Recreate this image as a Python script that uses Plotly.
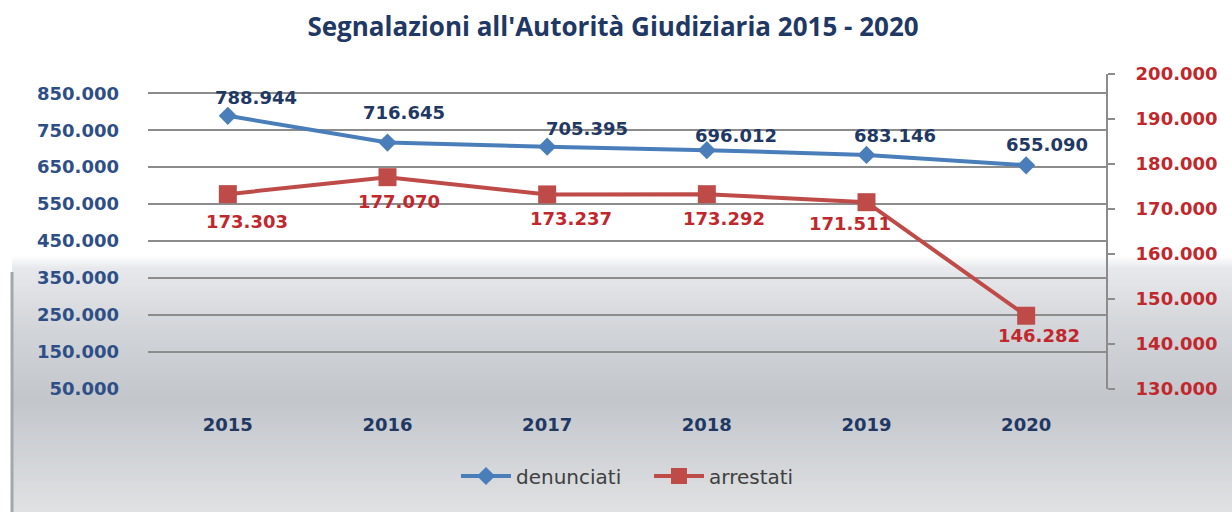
import plotly.graph_objects as go

years = ["2015", "2016", "2017", "2018", "2019", "2020"]
denunciati = [788944, 716645, 705395, 696012, 683146, 655090]
arrestati = [173303, 177070, 173237, 173292, 171511, 146282]
left_ticks = [50000, 150000, 250000, 350000, 450000, 550000, 650000, 750000, 850000]
right_ticks = [130000, 140000, 150000, 160000, 170000, 180000, 190000, 200000]

def fmt(v):
    return f"{v:,}".replace(",", ".")

# label offsets in pixels (styling only)
den_shift = [(28, 18), (16, 30), (40, 18), (29, 15), (28, 19), (21, 21)]
arr_shift = [(19, -27), (11, -24), (24, -24), (17, -24), (-17, -21), (13, -20)]

W, H = 1232, 512
L, R, T, B = 148, 1106, 74, 389

def px(x):
    return (x - L) / (R - L)

def py(y):
    return (B - y) / (B - T)

NUM = "DejaVu Sans"

fig = go.Figure()

# background gradient panel
stops = [(256, (255, 255, 255)), (268, (232, 233, 236)), (330, (210, 213, 217)),
         (400, (195, 198, 203)), (512, (224, 226, 228))]
shapes = []
step = 2
for y0 in range(256, 512, step):
    y1 = y0 + step
    yc = y0 + step / 2
    for i in range(len(stops) - 1):
        a, ca = stops[i]
        b, cb = stops[i + 1]
        if a <= yc <= b:
            t = (yc - a) / (b - a)
            c = tuple(int(ca[k] + (cb[k] - ca[k]) * t) for k in range(3))
            break
    shapes.append(dict(type="rect", xref="paper", yref="paper", layer="below",
                       x0=px(12), x1=px(W + 2), y0=py(y1 + 0.5), y1=py(y0),
                       fillcolor=f"rgb{c}", line=dict(width=0)))
shapes.append(dict(type="line", xref="paper", yref="paper", layer="below",
                   x0=px(12), x1=px(12), y0=py(272), y1=py(512),
                   line=dict(color="#a3a6ab", width=3)))

fig.add_trace(go.Scatter(
    x=years, y=denunciati, name="denunciati", mode="lines+markers",
    line=dict(color="#4a7ebb", width=4),
    marker=dict(symbol="diamond", size=14, color="#4a7ebb"),
    yaxis="y"))
fig.add_trace(go.Scatter(
    x=years, y=arrestati, name="arrestati", mode="lines+markers",
    line=dict(color="#be4b48", width=4),
    marker=dict(symbol="square", size=18, color="#be4b48"),
    yaxis="y2"))

ann = []
for i, v in enumerate(denunciati):
    ann.append(dict(x=i, y=v, xref="x", yref="y", text=fmt(v), showarrow=False,
                    xshift=den_shift[i][0], yshift=den_shift[i][1],
                    font=dict(family=NUM, size=18, color="#1f3864", weight="bold")))
for i, v in enumerate(arrestati):
    ann.append(dict(x=i, y=v, xref="x", yref="y2", text=fmt(v), showarrow=False,
                    xshift=arr_shift[i][0], yshift=arr_shift[i][1],
                    font=dict(family=NUM, size=18, color="#c0282d", weight="bold")))

fig.update_layout(
    width=W, height=H,
    margin=dict(l=L, r=W - R, t=T, b=H - B, autoexpand=False),
    paper_bgcolor="white", plot_bgcolor="rgba(0,0,0,0)",
    title=dict(text="<b>Segnalazioni all'Autorità Giudiziaria 2015 - 2020</b>",
               x=px(613), xanchor="center", xref="paper", y=1 - 27 / H, yanchor="middle",
               font=dict(family="Open Sans", size=26, color="#1f3864")),
    xaxis=dict(type="category", range=[-0.5, 5.5], showgrid=False, showline=False,
               automargin=False,
               ticks="", tickfont=dict(family=NUM, size=18, color="#1f3864", weight="bold"),
               ticklabelstandoff=23),
    yaxis=dict(range=[50000, 902000], tickvals=left_ticks,
               ticktext=[fmt(v) for v in left_ticks], showgrid=True, automargin=False,
               gridcolor="#8c8c8c", gridwidth=1.5, zeroline=False, showline=False,
               ticks="", tickfont=dict(family=NUM, size=18, color="#2e4f86", weight="bold"),
               ticklabelstandoff=28),
    yaxis2=dict(range=[130000, 200000], tickvals=right_ticks,
                ticktext=[fmt(v) for v in right_ticks], overlaying="y", side="right",
                showgrid=False, zeroline=False, showline=True, linecolor="#8c8c8c",
                automargin=False,
                linewidth=2, ticks="outside", ticklen=7, tickcolor="#8c8c8c",
                tickwidth=1.5,
                tickfont=dict(family=NUM, size=18, color="#c0282d", weight="bold"),
                ticklabelstandoff=17),
    legend=dict(orientation="h", x=px(456), xanchor="left", y=py(476), yanchor="middle",
                font=dict(family=NUM, size=20, color="#404040"),
                bgcolor="rgba(0,0,0,0)", itemwidth=50, entrywidth=128),
    showlegend=True,
    shapes=shapes,
    annotations=ann,
)

fig.write_html("out.html", config={"displayModeBar": False},
               post_script="document.body.style.margin='0';")
